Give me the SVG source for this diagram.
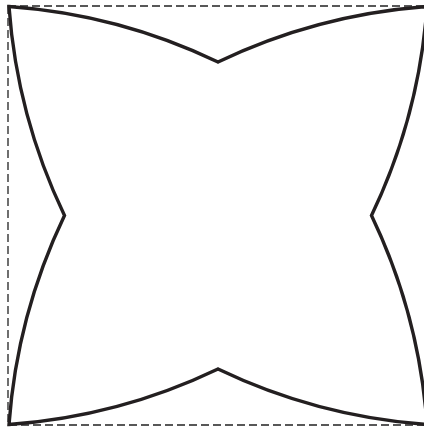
<svg xmlns="http://www.w3.org/2000/svg" width="424" height="433" viewBox="0 0 424 433">
<style>
.frame{fill:none;stroke:#222;stroke-width:1.3;stroke-dasharray:8 4}
.star{fill:#fff;stroke:#231f20;stroke-width:3.4;stroke-linejoin:miter}
</style>
<rect width="424" height="433" fill="#fff"/>
<g id="frame"><rect class="frame" x="8" y="6" width="419" height="419"/></g>
<g id="star"><path class="star" d="M9 6.5 A580 580 0 0 1 218 62 A580 580 0 0 1 427 6.5 A580 580 0 0 1 371.5 215.5 A580 580 0 0 1 427 424.5 A580 580 0 0 1 218 369 A580 580 0 0 1 9 424.5 A580 580 0 0 1 64.5 215.5 A580 580 0 0 1 9 6.5 Z"/></g>
</svg>
